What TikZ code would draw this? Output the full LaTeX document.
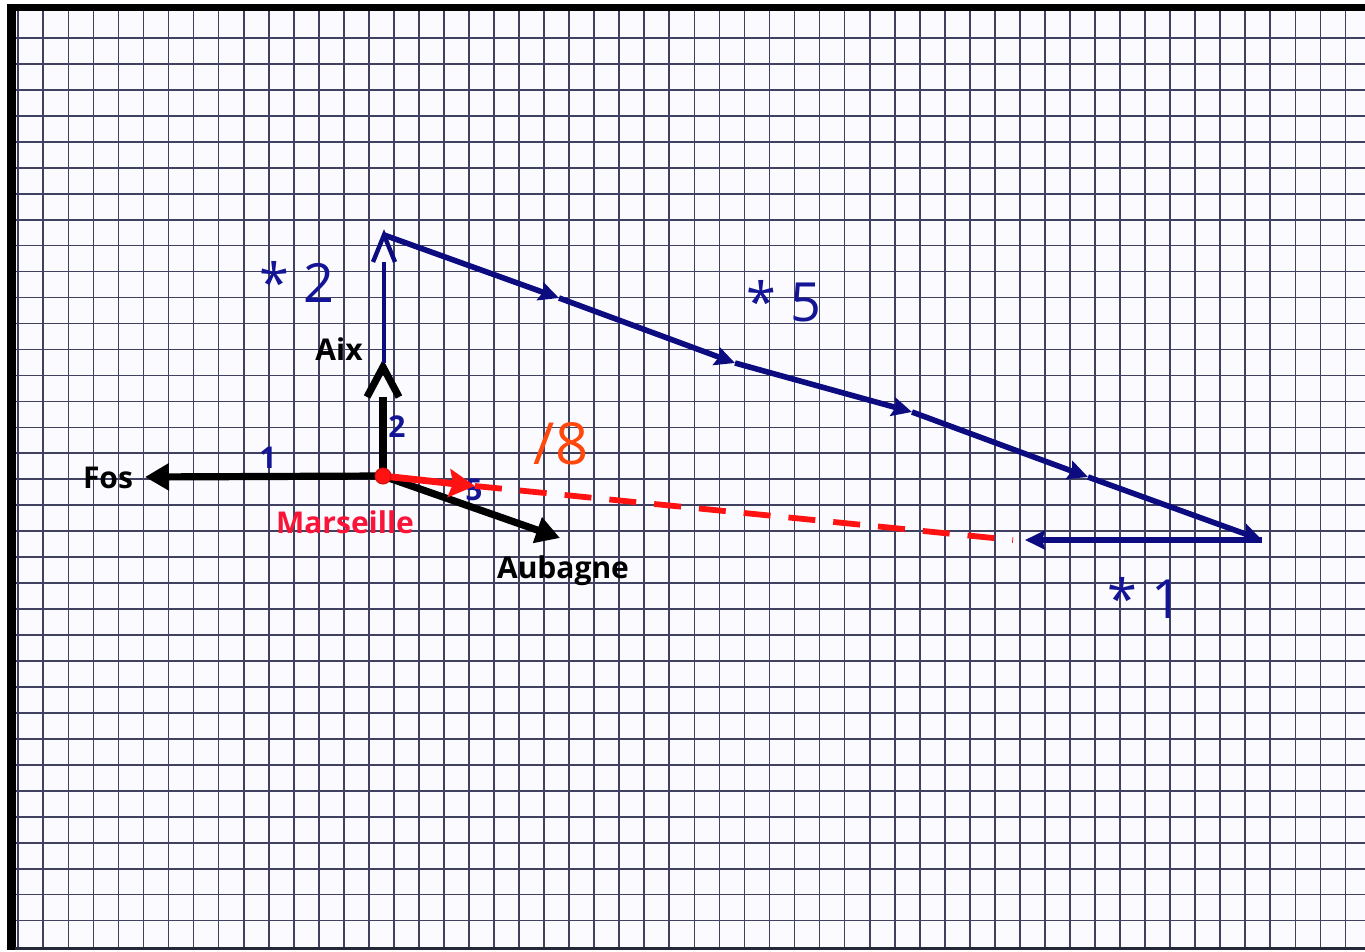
\documentclass[tikz,border=0pt]{standalone}
\usepackage{fontspec}
\setmainfont{Open Sans}
\usepackage{tikz}
\usetikzlibrary{arrows.meta, calc}
\definecolor{mynavy}{RGB}{12,12,128}
\definecolor{mylabel}{RGB}{20,20,150}
\definecolor{myred}{RGB}{255,18,18}
\definecolor{mycity}{RGB}{250,20,55}
\definecolor{myorange}{RGB}{255,72,12}
\definecolor{mygrid}{RGB}{64,64,96}
\definecolor{mypaper}{RGB}{251,251,255}
\tikzset{
  gridline/.style={color=mygrid, line width=0.85pt},
  cityvec/.style={line width=3.6pt, color=black, -{Triangle[length=12pt, width=13pt]}},
  cityline/.style={line width=3.6pt, color=black, line join=miter},
  bluevec/.style={line width=2.8pt, color=mynavy, -{Stealth[length=10pt, width=9.5pt, inset=1.5pt]}},
  blueline/.style={line width=2.2pt, color=mynavy, line join=miter},
  redvec/.style={line width=3.4pt, color=myred, -{Stealth[length=13pt, width=14pt, inset=2pt]}},
  reddash/.style={line width=2.9pt, color=myred, dash pattern=on 13.5pt off 9pt},
  citylabel/.style={font=\fontsize{15}{17}\selectfont\bfseries, text=black, inner sep=0pt},
  stepnum/.style={font=\fontsize{15}{17}\selectfont\bfseries, text=mylabel, inner sep=0pt},
  factor/.style={font=\fontsize{27}{30}\selectfont, text=mylabel, inner sep=0pt},
  citydot/.style={circle, fill=myred, draw=myred!80!black, line width=0.5pt,
    inner sep=0pt, minimum size=8pt}
}
\begin{document}
\begin{tikzpicture}[x=0.5pt, y=-0.5pt]
  \useasboundingbox (0,0) rectangle (1365,952);
  \fill[white] (0,0) rectangle (1365,952);
  \fill[mypaper] (15,11) rectangle (1365,948);

  % squared paper
  \foreach \k in {0,...,53} {
    \draw[gridline] ({18.3+25.04*\k},11) -- ({18.3+25.04*\k},947);
  }
  \foreach \j in {1,...,35} {
    \draw[gridline] (15,{12+25.96*\j}) -- (1365,{12+25.96*\j});
  }
  \fill[black] (7,4) rectangle (16,950);
  \fill[black] (7,4) rectangle (1365,11);
  \draw[mygrid!60!black, line width=1.5pt] (15,948) -- (1365,948);

  % end points of the vectors
  \coordinate (mars) at (383,476);
  \coordinate (fos) at (145,477);
  \coordinate (aixbase) at (383,397);
  \coordinate (aixtip) at (383,367);
  \coordinate (aub) at (560,538);
  \coordinate (b0) at (384,363);
  \coordinate (b1) at (384,262);
  \coordinate (t0) at (384,235);
  \coordinate (t1) at (559,298);
  \coordinate (t2) at (735,363);
  \coordinate (t3) at (912,412);
  \coordinate (t4) at (1088,477);
  \coordinate (t5) at (1262,540);
  \coordinate (fin) at (1025,540);
  \coordinate (rtip) at (475,486);
  \coordinate (rend) at (1013,540);

  % unit vectors from Marseille
  \draw[cityvec] (mars) -- (fos);
  \draw[cityline] (mars) -- (aixbase);
  \draw[cityline] ($(aixbase)+(-16,0)$) -- (aixtip) -- ($(aixbase)+(16,0)$);
  \draw[cityvec] (mars) -- (aub);

  % sum: 2 Aix + 5 Aubagne + 1 Fos
  \draw[blueline] (b0) -- (b1);
  \draw[blueline] ($(b1)+(-11,0)$) -- (t0) -- ($(b1)+(11,0)$);
  \foreach \a/\b in {t0/t1, t1/t2, t2/t3, t3/t4, t4/t5} {
    \draw[bluevec] (\a) -- (\b);
  }
  \draw[bluevec] (t5) -- (fin);

  % labels
  \node[citylabel] (fostxt) at (108,478) {Fos};
  \node[citylabel] (aixtxt) at (339,349) {Aix};
  \node[citylabel] (aubtxt) at (563,571) {Aubagne};
  \node[citylabel, text=mycity] (marstxt) at (345,522) {Marseille};
  \node[stepnum] (n1) at (268,458) {1};
  \node[stepnum] (n2) at (397,427) {2};
  \node[stepnum] (n5) at (474,490) {5};
  \node[factor] (f2) at (297,282) {* 2};
  \node[factor] (f5) at (784,301) {* 5};
  \node[factor] (f1) at (1145,598) {* 1};
  \node[factor, text=myorange, font=\fontsize{29}{32}\selectfont] (div8) at (561,444) {/8};

  % mean position
  \draw[reddash] (rtip) -- (rend);
  \draw[redvec] (mars) -- (rtip);
  \node[citydot] (marsdot) at (mars) {};
\end{tikzpicture}
\end{document}
